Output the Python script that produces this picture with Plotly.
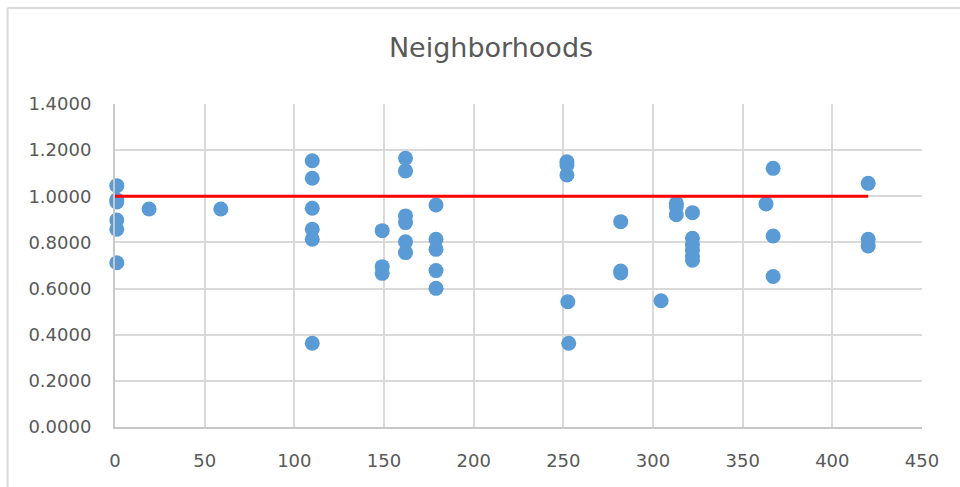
import plotly.graph_objects as go

# Neighborhood ratio readings, grouped by x position
nbhd_x = [1, 1, 1, 1, 1, 1,
          19, 59,
          110, 110, 110, 110, 110, 110,
          149, 149, 149,
          162, 162, 162, 162, 162, 162,
          179, 179, 179, 179, 179,
          252, 252, 252, 252.5, 253,
          282, 282, 282,
          304.5,
          313, 313, 313,
          322, 322, 322, 322, 322, 322,
          363,
          367, 367, 367,
          420, 420, 420]
nbhd_y = [1.046, 0.985, 0.975, 0.897, 0.857, 0.712,
          0.945, 0.945,
          1.154, 1.078, 0.948, 0.857, 0.814, 0.363,
          0.851, 0.695, 0.666,
          1.165, 1.110, 0.915, 0.886, 0.803, 0.756,
          0.962, 0.814, 0.770, 0.678, 0.601,
          1.150, 1.136, 1.092, 0.543, 0.363,
          0.890, 0.676, 0.668,
          0.547,
          0.970, 0.955, 0.920,
          0.929, 0.818, 0.790, 0.765, 0.740, 0.723,
          0.967,
          1.121, 0.828, 0.652,
          1.056, 0.814, 0.785]

# Reference level
ref_x = [0, 420]
ref_y = [1.0, 1.0]

x_ticks = [0, 50, 100, 150, 200, 250, 300, 350, 400, 450]
y_ticks = [0.0, 0.2, 0.4, 0.6, 0.8, 1.0, 1.2, 1.4]

GRID = "#D9D9D9"
TEXT = "#595959"
FONT = "DejaVu Sans"

fig = go.Figure()
fig.add_trace(go.Scatter(
    x=nbhd_x, y=nbhd_y, mode="markers",
    marker=dict(size=15, color="#5B9BD5", line=dict(width=0)),
    cliponaxis=False, showlegend=False, hoverinfo="x+y"))
fig.add_trace(go.Scatter(
    x=ref_x, y=ref_y, mode="lines",
    line=dict(color="#FF0000", width=3),
    cliponaxis=False, showlegend=False))

# plot area in pixels
L, R, T, B = 114.5, 921.7, 104.0, 426.7
W, H = 960, 487
pw, ph = R - L, B - T

def px_x(p):
    return (p - L) / pw

def px_y(p):
    return (B - p) / ph

fig.update_layout(
    width=W, height=H,
    margin=dict(l=L, r=W - R, t=T, b=H - B, pad=0),
    paper_bgcolor="white", plot_bgcolor="white",
    title=dict(text="Neighborhoods", x=491 / W, xref="container",
               y=1 - 48 / H, yref="container", xanchor="center", yanchor="middle",
               font=dict(family=FONT, size=27, color=TEXT)),
    xaxis=dict(range=[0, 450], tickvals=x_ticks, ticktext=[str(v) for v in x_ticks],
               showgrid=True, gridcolor=GRID, gridwidth=1.5,
               showline=True, linecolor="#C8C8C8", linewidth=2,
               zeroline=False, ticks="", ticklen=0, ticklabelstandoff=16,
               tickfont=dict(family=FONT, size=18, color=TEXT)),
    yaxis=dict(range=[0, 1.4], tickvals=y_ticks, tickformat=".4f",
               showgrid=True, gridcolor=GRID, gridwidth=1.5,
               showline=True, linecolor="#C8C8C8", linewidth=2,
               zeroline=False, ticks="", ticklen=0, ticklabelstandoff=18,
               tickfont=dict(family=FONT, size=18, color=TEXT)),
    shapes=[
        # chart-area frame (left and top edges)
        dict(type="line", xref="paper", yref="paper",
             x0=px_x(7), x1=px_x(7), y0=px_y(8), y1=px_y(H + 5),
             line=dict(color=GRID, width=2)),
        dict(type="line", xref="paper", yref="paper",
             x0=px_x(7), x1=px_x(W + 5), y0=px_y(8), y1=px_y(8),
             line=dict(color=GRID, width=2)),
    ],
)

fig.write_html("out.html")
